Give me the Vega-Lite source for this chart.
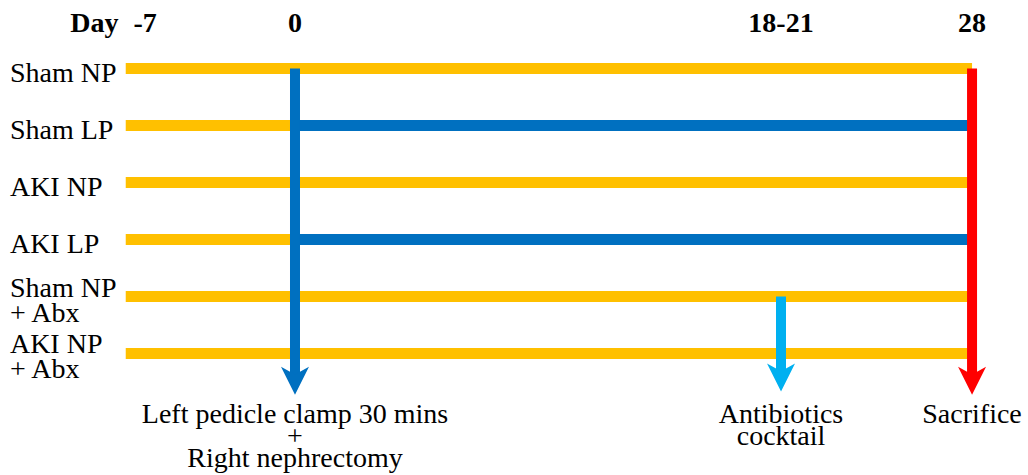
{
  "$schema": "https://vega.github.io/schema/vega-lite/v6.json",
  "width": 1028,
  "height": 475,
  "padding": 0,
  "autosize": {"type": "fit", "contains": "padding"},
  "background": "white",
  "config": {
    "view": {"stroke": null},
    "text": {"font": "'Liberation Serif', 'Times New Roman', 'DejaVu Serif', serif", "fontSize": 28, "color": "#000000"}
  },
  "datasets": {
    "segments": [
      {"group": "Sham NP", "lane": 1, "diet": "NP", "start": -7, "end": 28},
      {"group": "Sham LP", "lane": 2, "diet": "NP", "start": -7, "end": 0},
      {"group": "Sham LP", "lane": 2, "diet": "LP", "start": 0, "end": 28},
      {"group": "AKI NP", "lane": 3, "diet": "NP", "start": -7, "end": 28},
      {"group": "AKI LP", "lane": 4, "diet": "NP", "start": -7, "end": 0},
      {"group": "AKI LP", "lane": 4, "diet": "LP", "start": 0, "end": 28},
      {"group": "Sham NP + Abx", "lane": 5, "diet": "NP", "start": -7, "end": 28},
      {"group": "AKI NP + Abx", "lane": 6, "diet": "NP", "start": -7, "end": 28}
    ],
    "groups": [
      {"label": "Sham NP", "lane": 1, "abx": "no"},
      {"label": "Sham LP", "lane": 2, "abx": "no"},
      {"label": "AKI NP", "lane": 3, "abx": "no"},
      {"label": "AKI LP", "lane": 4, "abx": "no"},
      {"label": "Sham NP\n+ Abx", "lane": 5, "abx": "yes"},
      {"label": "AKI NP\n+ Abx", "lane": 6, "abx": "yes"}
    ],
    "events": [
      {"event": "Left pedicle clamp 30 mins\n+\nRight nephrectomy", "kind": "surgery", "day": 0, "from": 1, "to": 6.48},
      {"event": "Antibiotics\ncocktail", "kind": "antibiotics", "day": 20.1, "from": 5, "to": 6.42},
      {"event": "Sacrifice", "kind": "sacrifice", "day": 28, "from": 1, "to": 6.48}
    ],
    "days": [
      {"label": "Day", "pos": -8.3},
      {"label": "-7", "pos": -6.2},
      {"label": "0", "pos": 0},
      {"label": "18-21", "pos": 20.1},
      {"label": "28", "pos": 28}
    ]
  },
  "layer": [
    {
      "data": {"name": "segments"},
      "mark": {"type": "rule", "strokeWidth": 11, "strokeCap": "butt"},
      "encoding": {
        "x": {"field": "start", "type": "quantitative", "axis": null,
              "scale": {"domain": [-12.2, 30.314], "nice": false, "zero": false}},
        "x2": {"field": "end"},
        "y": {"field": "lane", "type": "quantitative", "axis": null,
              "scale": {"domain": [-0.2018, 8.1316], "reverse": true, "nice": false, "zero": false}},
        "color": {"field": "diet", "type": "nominal", "legend": null,
                  "scale": {"domain": ["NP", "LP", "surgery", "antibiotics", "sacrifice"],
                            "range": ["#FFC000", "#0070C0", "#0070C0", "#00B0F0", "#FF0000"]}}
      }
    },
    {
      "data": {"name": "events"},
      "mark": {"type": "rule", "strokeWidth": 10, "strokeCap": "butt"},
      "encoding": {
        "x": {"field": "day", "type": "quantitative"},
        "y": {"field": "from", "type": "quantitative"},
        "y2": {"field": "to"},
        "color": {"field": "kind", "type": "nominal", "legend": null}
      }
    },
    {
      "data": {"name": "events"},
      "mark": {"type": "point", "filled": true, "opacity": 1, "size": 784,
               "shape": "M0,1L-1,-1L0,-0.45L1,-1Z"},
      "encoding": {
        "x": {"field": "day", "type": "quantitative"},
        "y": {"field": "to", "type": "quantitative"},
        "color": {"field": "kind", "type": "nominal", "legend": null}
      }
    },
    {
      "data": {"name": "days"},
      "mark": {"type": "text", "fontWeight": "bold", "align": "center", "baseline": "alphabetic"},
      "encoding": {
        "x": {"field": "pos", "type": "quantitative"},
        "y": {"datum": 0.36},
        "text": {"field": "label"}
      }
    },
    {
      "data": {"name": "groups"},
      "transform": [{"filter": "datum.abx == 'no'"}],
      "mark": {"type": "text", "align": "left", "baseline": "alphabetic", "dy": 13},
      "encoding": {
        "x": {"datum": -11.79},
        "y": {"field": "lane", "type": "quantitative"},
        "text": {"field": "label"}
      }
    },
    {
      "data": {"name": "groups"},
      "transform": [{"filter": "datum.abx == 'yes'"}],
      "mark": {"type": "text", "align": "left", "baseline": "alphabetic", "dy": 0,
               "lineBreak": "\n", "lineHeight": 25},
      "encoding": {
        "x": {"datum": -11.79},
        "y": {"field": "lane", "type": "quantitative"},
        "text": {"field": "label"}
      }
    },
    {
      "data": {"name": "events"},
      "mark": {"type": "text", "align": "center", "baseline": "alphabetic",
               "lineBreak": "\n", "lineHeight": 22},
      "encoding": {
        "x": {"field": "day", "type": "quantitative"},
        "y": {"datum": 7.22},
        "text": {"field": "event"}
      }
    }
  ]
}
